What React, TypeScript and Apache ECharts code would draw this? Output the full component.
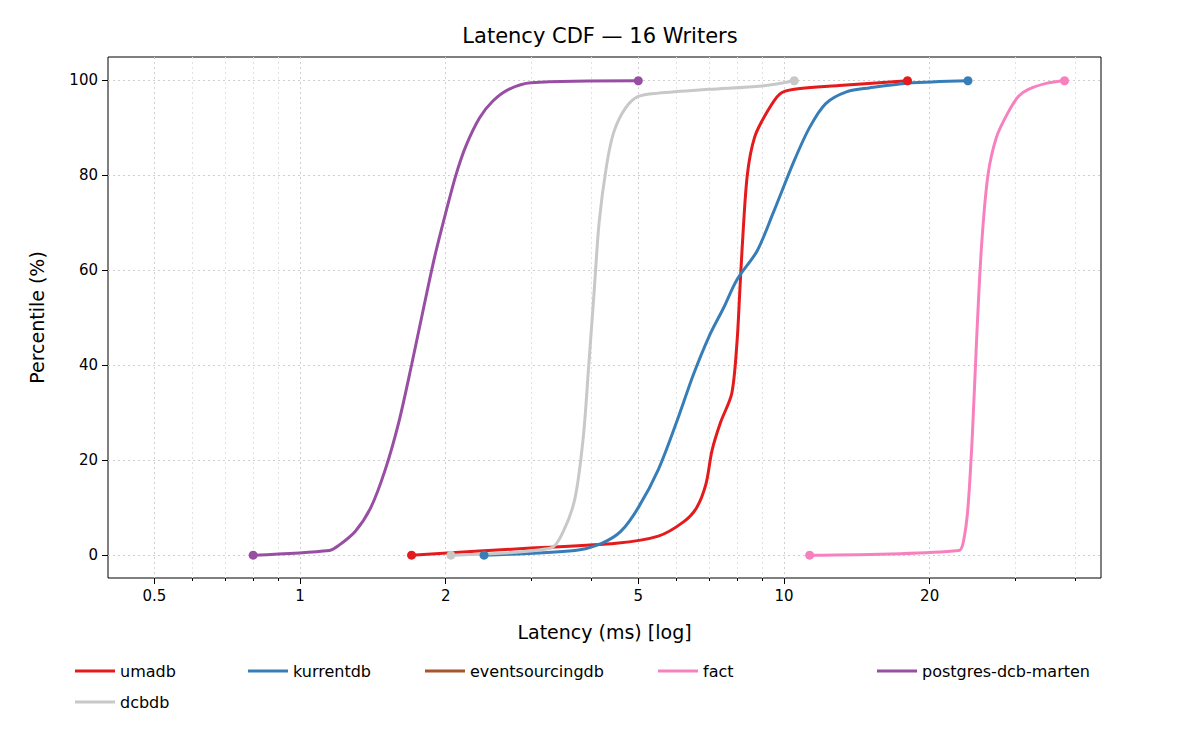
import { useRef, useEffect } from "react";
import * as echarts from "echarts";

// [latency ms, percentile]
const UMADB: [number, number][] = [
  [1.7, 0], [3, 1.5], [4.5, 2.5], [5.5, 4], [6.2, 7], [6.6, 10], [6.9, 15], [7.1, 22],
  [7.4, 28], [7.8, 34], [8.0, 45], [8.1, 55], [8.2, 65], [8.4, 80], [8.7, 88], [9.2, 93],
  [9.8, 97], [10.5, 98], [13, 98.8], [18, 99.8],
];
const KURRENTDB: [number, number][] = [
  [2.4, 0], [3.7, 1], [4.2, 2.5], [4.6, 5], [5.0, 10], [5.5, 18], [6.0, 28], [6.5, 38],
  [7.0, 46], [7.5, 52], [8.0, 58], [8.8, 64], [9.5, 72], [10.5, 83], [11.3, 90], [12.2, 95],
  [13.5, 97.5], [15, 98.3], [18, 99.3], [24, 99.8],
];
const EVENTSOURCINGDB: [number, number][] = [];
const FACT: [number, number][] = [
  [11.3, 0], [23, 1], [23.5, 3], [24, 10], [24.5, 25], [25, 45], [25.6, 65], [26.4, 80],
  [27.5, 88], [29, 93], [30.5, 96.5], [32, 98], [35, 99.3], [38, 99.8],
];
const MARTEN: [number, number][] = [
  [0.8, 0], [1.15, 1], [1.2, 2], [1.3, 5], [1.4, 10], [1.5, 18], [1.6, 28], [1.7, 40],
  [1.8, 52], [1.9, 63], [2.0, 72], [2.1, 80], [2.2, 86], [2.35, 92], [2.5, 95.5],
  [2.7, 98], [3.0, 99.4], [5.0, 99.8],
];
const DCBDB: [number, number][] = [
  [2.05, 0], [3.3, 1.5], [3.5, 5], [3.7, 12], [3.85, 25], [3.95, 40], [4.05, 55], [4.15, 70],
  [4.3, 82], [4.45, 89], [4.7, 94], [5.0, 96.5], [5.5, 97.2], [7, 98], [9, 98.7], [10.5, 99.8],
];

const SERIES = [
  { name: "umadb", color: "#e41a1c", data: UMADB },
  { name: "kurrentdb", color: "#377eb8", data: KURRENTDB },
  { name: "eventsourcingdb", color: "#a65628", data: EVENTSOURCINGDB },
  { name: "fact", color: "#f781bf", data: FACT },
  { name: "postgres-dcb-marten", color: "#984ea3", data: MARTEN },
  { name: "dcbdb", color: "#c8c8c8", data: DCBDB },
];

const X_MAJOR = [0.5, 1, 2, 5, 10, 20];
const X_MINOR = [0.6, 0.7, 0.8, 0.9, 3, 4, 6, 7, 8, 9, 30, 40];
const Y_TICKS = [0, 20, 40, 60, 80, 100];

const FONT = "DejaVu Sans";
const lg = Math.log10;

export default function App() {
  const ref = useRef<HTMLDivElement>(null);

  useEffect(() => {
    document.body.style.margin = "0";
    if (!ref.current) return;
    const chart = echarts.init(ref.current, undefined, { renderer: "svg" });

    const legendPos = [
      { left: 70, top: 658 },
      { left: 243, top: 658 },
      { left: 420, top: 658 },
      { left: 653, top: 658 },
      { left: 872, top: 658 },
      { left: 70, top: 689 },
    ];

    const option: echarts.EChartsOption = {
      animation: false,
      backgroundColor: "#fff",
      textStyle: { fontFamily: FONT },
      title: {
        text: "Latency CDF — 16 Writers",
        left: "center",
        top: 20,
        textStyle: { fontSize: 21, fontWeight: "normal", color: "#000", fontFamily: FONT },
      },
      legend: SERIES.map((s, i) => ({
        data: [s.name],
        ...legendPos[i],
        itemWidth: 40,
        itemHeight: 3,
        itemGap: 10,
        icon: "rect",
        textStyle: { fontSize: 16, color: "#000", fontFamily: FONT },
      })),
      grid: {
        left: 108, right: 99, top: 57, bottom: 172,
        show: true, borderColor: "#000", borderWidth: 1,
      },
      xAxis: [
        {
          type: "value",
          min: lg(0.401),
          max: lg(45.2),
          name: "Latency (ms) [log]",
          nameLocation: "middle",
          nameGap: 44,
          nameTextStyle: { fontSize: 19, color: "#000", fontFamily: FONT },
          axisLine: { show: false, onZero: false },
          axisTick: { show: true, length: 6, lineStyle: { color: "#000" }, customValues: X_MAJOR.map(lg) },
          axisLabel: {
            customValues: X_MAJOR.map(lg),
            fontSize: 15, color: "#000", margin: 10,
            formatter: (v: number) => String(Math.round(Math.pow(10, v) * 10) / 10),
          },
          splitLine: { show: true, lineStyle: { color: "#cfcfcf", type: [2, 3], width: 1 } },
        },
        {
          type: "value",
          min: lg(0.401),
          max: lg(45.2),
          position: "bottom",
          axisLine: { show: false, onZero: false },
          axisTick: { show: true, length: 3, lineStyle: { color: "#000" }, customValues: X_MINOR.map(lg) },
          axisLabel: { show: false, customValues: X_MINOR.map(lg) },
          splitLine: { show: true, lineStyle: { color: "#e2e2e2", type: [2, 3], width: 1 } },
        },
      ],
      yAxis: {
        type: "value",
        min: -4.8,
        max: 104.8,
        name: "Percentile (%)",
        nameLocation: "middle",
        nameGap: 62,
        nameTextStyle: { fontSize: 19, color: "#000", fontFamily: FONT },
        axisLine: { show: false, onZero: false },
        axisTick: { show: true, length: 6, lineStyle: { color: "#000" }, customValues: Y_TICKS },
        axisLabel: { customValues: Y_TICKS, fontSize: 15, color: "#000", margin: 10 },
        splitLine: { show: true, lineStyle: { color: "#cfcfcf", type: [2, 3], width: 1 } },
      },
      series: SERIES.map((s) => ({
        name: s.name,
        type: "line" as const,
        smooth: 0.3,
        data: s.data.map(([x, y]) => [lg(x), y]),
        color: s.color,
        lineStyle: { width: 3, color: s.color },
        itemStyle: { color: s.color },
        symbol: "circle",
        showAllSymbol: true,
        symbolSize: (_v: unknown, p: { dataIndex: number }) =>
          p.dataIndex === 0 || p.dataIndex === s.data.length - 1 ? 9 : 0,
        z: 3,
      })),
    };

    chart.setOption(option);
    return () => chart.dispose();
  }, []);

  return <div ref={ref} style={{ width: 1200, height: 750 }} />;
}
